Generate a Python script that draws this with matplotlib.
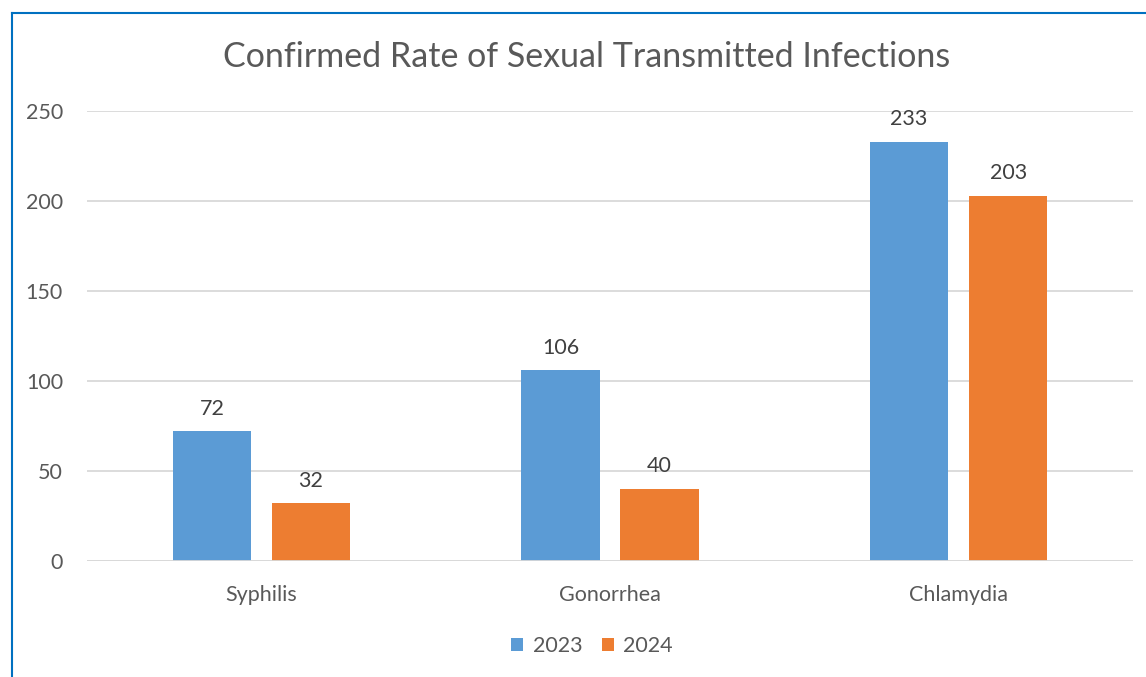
import matplotlib
matplotlib.use("Agg")
import matplotlib.pyplot as plt
import matplotlib.transforms as mtransforms
import numpy as np

categories = ["Syphilis", "Gonorrhea", "Chlamydia"]
series_names = ["2023", "2024"]
values_2023 = [72, 106, 233]
values_2024 = [32, 40, 203]
yticks = [0, 50, 100, 150, 200, 250]

colors = ["#5B9BD5", "#ED7D31"]
txt = "#595959"
lbl_col = "#404040"
plt.rcParams['font.family'] = ['Lato', 'DejaVu Sans']

fig = plt.figure(figsize=(11.46, 6.77), dpi=100)
W, H = 1146, 677
ax = fig.add_axes([87 / W, 1 - 561 / H, (1133 - 87) / W, (561 - 111) / H])

x = np.arange(len(categories))
bw = 0.224
off = 0.142
b1 = ax.bar(x - off, values_2023, bw, color=colors[0], label=series_names[0], zorder=3)
b2 = ax.bar(x + off, values_2024, bw, color=colors[1], label=series_names[1], zorder=3)
for bars, vals in ((b1, values_2023), (b2, values_2024)):
    for r, v in zip(bars, vals):
        ax.annotate(str(v), (r.get_x() + r.get_width() / 2, v), xytext=(0, 9),
                    textcoords="offset points", ha="center", va="bottom",
                    fontsize=15.5, color=lbl_col)

ax.set_xlim(-0.5, 2.5)
ax.set_ylim(0, 250)
ax.set_yticks(yticks)
ax.set_xticks(x)
ax.set_xticklabels(categories)
ax.grid(axis="y", color="#D9D9D9", linewidth=1.3, zorder=0)
for s in ax.spines.values():
    s.set_visible(False)
ax.axhline(0, color="#D9D9D9", linewidth=1.3, zorder=4)
ax.tick_params(length=0, labelsize=15.5, labelcolor=txt)
ax.tick_params(axis="x", pad=17)
ax.yaxis.set_tick_params(pad=0)
for lbl in ax.get_yticklabels():
    lbl.set_horizontalalignment("right")
    lbl.set_transform(mtransforms.blended_transform_factory(fig.transFigure, ax.transData))
    lbl.set_x(63 / W)

fig.text(587 / W, 1 - 57 / H, "Confirmed Rate of Sexual Transmitted Infections",
         ha="center", va="center", fontsize=24.5, color=txt)

leg = fig.legend(handles=[b1, b2], loc="center", bbox_to_anchor=(592 / W, 1 - 646 / H),
                 ncol=2, frameon=False, fontsize=15.5, handlelength=0.55, handleheight=0.55,
                 handletextpad=0.45, columnspacing=0.9, labelcolor=txt)

fig.add_artist(plt.Line2D([11.5 / W, 11.5 / W], [0, 1 - 12.5 / H], transform=fig.transFigure,
                          color="#0070C0", linewidth=1.5))
fig.add_artist(plt.Line2D([11.5 / W, 1], [1 - 12.5 / H, 1 - 12.5 / H], transform=fig.transFigure,
                          color="#0070C0", linewidth=1.5))

fig.savefig("out.png", dpi=100)
